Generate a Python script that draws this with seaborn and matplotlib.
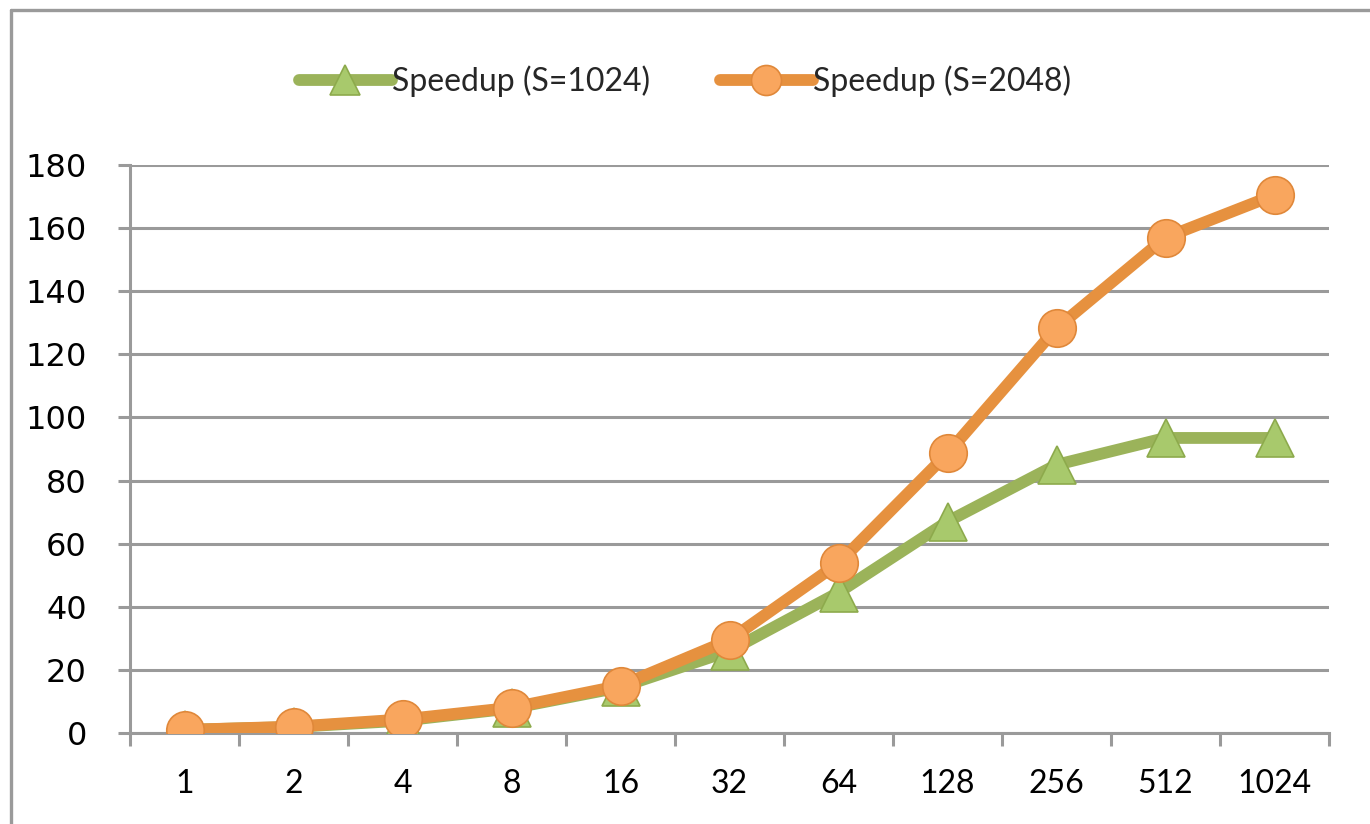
import numpy as np
import pandas as pd
import matplotlib
matplotlib.use("Agg")
import matplotlib.pyplot as plt
from matplotlib.lines import Line2D
import seaborn as sns

cores = ["1", "2", "4", "8", "16", "32", "64", "128", "256", "512", "1024"]
speedup_1024 = [1.0, 1.9, 3.9, 7.8, 14.5, 26.0, 44.5, 67.0, 85.0, 93.5, 93.5]
speedup_2048 = [1.0, 2.0, 4.3, 8.0, 15.0, 29.5, 53.8, 88.6, 128.3, 157.0, 170.5]
series_names = ["Speedup (S=1024)", "Speedup (S=2048)"]

df = pd.DataFrame({
    "pos": list(range(len(cores))) * 2,
    "speedup": speedup_1024 + speedup_2048,
    "series": [series_names[0]] * len(cores) + [series_names[1]] * len(cores),
})

sns.set_theme(style="white")
plt.rcParams['font.family'] = ['Lato', 'DejaVu Sans']

grid_c = "#9a9a9a"
green_line, green_fill, green_edge = "#9BB35A", "#A8C96C", "#8DAA4C"
orange_line, orange_fill, orange_edge = "#E6913F", "#F9A65E", "#E0883A"

fig = plt.figure(figsize=(13.7, 8.24), dpi=100)
ax = fig.add_axes([130 / 1370, 1 - 733 / 824, 1199 / 1370, 568 / 824])

sns.lineplot(data=df[df.series == series_names[0]], x="pos", y="speedup", ax=ax,
             color=green_line, lw=8.5, marker="^", markersize=27,
             markerfacecolor=green_fill, markeredgecolor=green_edge, markeredgewidth=1.2,
             label=series_names[0], zorder=3)
sns.lineplot(data=df[df.series == series_names[1]], x="pos", y="speedup", ax=ax,
             color=orange_line, lw=8.5, marker="o", markersize=27,
             markerfacecolor=orange_fill, markeredgecolor=orange_edge, markeredgewidth=1.2,
             label=series_names[1], zorder=4)

ax.set_xlim(-0.5, len(cores) - 0.5)
ax.set_ylim(0, 180)
ax.set_yticks(np.arange(0, 181, 20))
ax.set_xticks(range(len(cores)))
ax.set_xticklabels(cores)
ax.set_xticks(np.arange(-0.5, len(cores), 1), minor=True)
ax.set_xlabel("")
ax.set_ylabel("")

ax.yaxis.grid(True, color=grid_c, lw=2.2)
ax.xaxis.grid(False)
ax.set_axisbelow(True)
for s in ["top", "right"]:
    ax.spines[s].set_visible(False)
for s in ["left", "bottom"]:
    ax.spines[s].set_color(grid_c)
    ax.spines[s].set_linewidth(2.2)

ax.tick_params(axis="x", which="major", bottom=True, length=0, pad=26, labelsize=23,
               labelcolor="black")
ax.tick_params(axis="x", which="minor", bottom=True, length=9, width=2.2, color=grid_c,
               direction="out")
ax.tick_params(axis="y", which="major", left=True, length=9, width=2.2, color=grid_c,
               direction="out", pad=22, labelsize=23, labelcolor="black")
for lab in ax.get_yticklabels():
    lab.set_fontfamily("DejaVu Sans")

leg = ax.legend(loc="center", bbox_to_anchor=(0.5, 1 - 81 / 824), bbox_transform=fig.transFigure,
                ncol=2, frameon=False, fontsize=23, handlelength=2.9, handletextpad=0.0,
                columnspacing=2.2, markerscale=0.8)

# outer chart border
fig.add_artist(Line2D([11 / 1370, 11 / 1370], [0, 1 - 10 / 824], transform=fig.transFigure,
                      color=grid_c, lw=2.4))
fig.add_artist(Line2D([11 / 1370, 1], [1 - 10 / 824, 1 - 10 / 824], transform=fig.transFigure,
                      color=grid_c, lw=2.4))

fig.savefig("out.png", dpi=100)
